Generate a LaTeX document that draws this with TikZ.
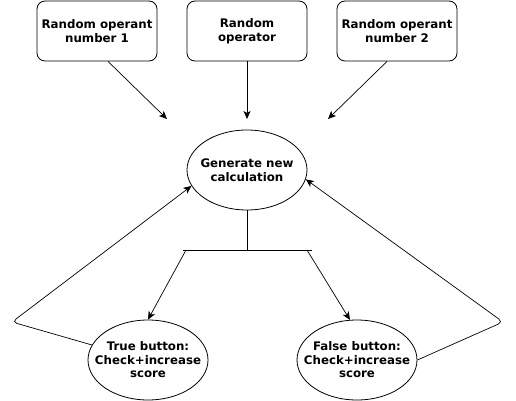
\documentclass[tikz,border=0pt]{standalone}
\usepackage{fontspec}
\setmainfont{DejaVu Sans}
\usetikzlibrary{arrows.meta, shapes.geometric}
\tikzset{
  boxtext/.style={font=\bfseries\fontsize{11.8}{13.5}\selectfont, align=center},
  randbox/.style={boxtext, draw, rounded corners=8, minimum width=120, minimum height=60, inner sep=0},
  stepellipse/.style={boxtext, draw, ellipse, minimum width=120, minimum height=80, inner xsep=-11, inner ysep=0},
  flow/.style={-{Stealth[length=8,width=7,inset=2]}, line width=0.7}
}

\begin{document}
\begin{tikzpicture}[x=1pt, y=-1pt, line width=0.8]
  \useasboundingbox (0,0) rectangle (516,401);

  % random inputs
  \node [randbox] (op1) at (97,31) {Random operant\\number 1};
  \node [randbox] (oper) at (247,31) {Random\\operator};
  \node [randbox] (op2) at (397,31) {Random operant\\number 2};

  \node [stepellipse] (gen) at (247,170) {Generate new\\calculation};

  \node [stepellipse] (true) at (148,360) {True button:\\Check+increase\\score};
  \node [stepellipse] (false) at (357,360) {False button:\\Check+increase\\score};

  \coordinate (in1) at (167,119);
  \coordinate (in2) at (247,119);
  \coordinate (in3) at (328,119);
  \draw [flow] ([xshift=11]op1.south) -- (in1);
  \draw [flow] (oper.south) -- (in2);
  \draw [flow] ([xshift=-10]op2.south) -- (in3);

  % split to the two buttons
  \coordinate (split) at (247,250);
  \coordinate (splitl) at (183,250);
  \coordinate (splitr) at (312,250);
  \draw (gen.south) -- (split);
  \draw (splitl) -- (splitr);
  \draw [flow] ([xshift=3]splitl) -- (true.north);
  \draw [flow] ([xshift=-5]splitr) -- (false.100);

  % back to a new calculation
  \coordinate (backl) at (12,322);
  \coordinate (backr) at (503,322);
  \draw [flow, rounded corners=5] (true.165) -- (backl) -- (gen.196);
  \draw [flow, rounded corners=5] (false.0) -- (backr) -- (gen.-9);
\end{tikzpicture}
\end{document}
